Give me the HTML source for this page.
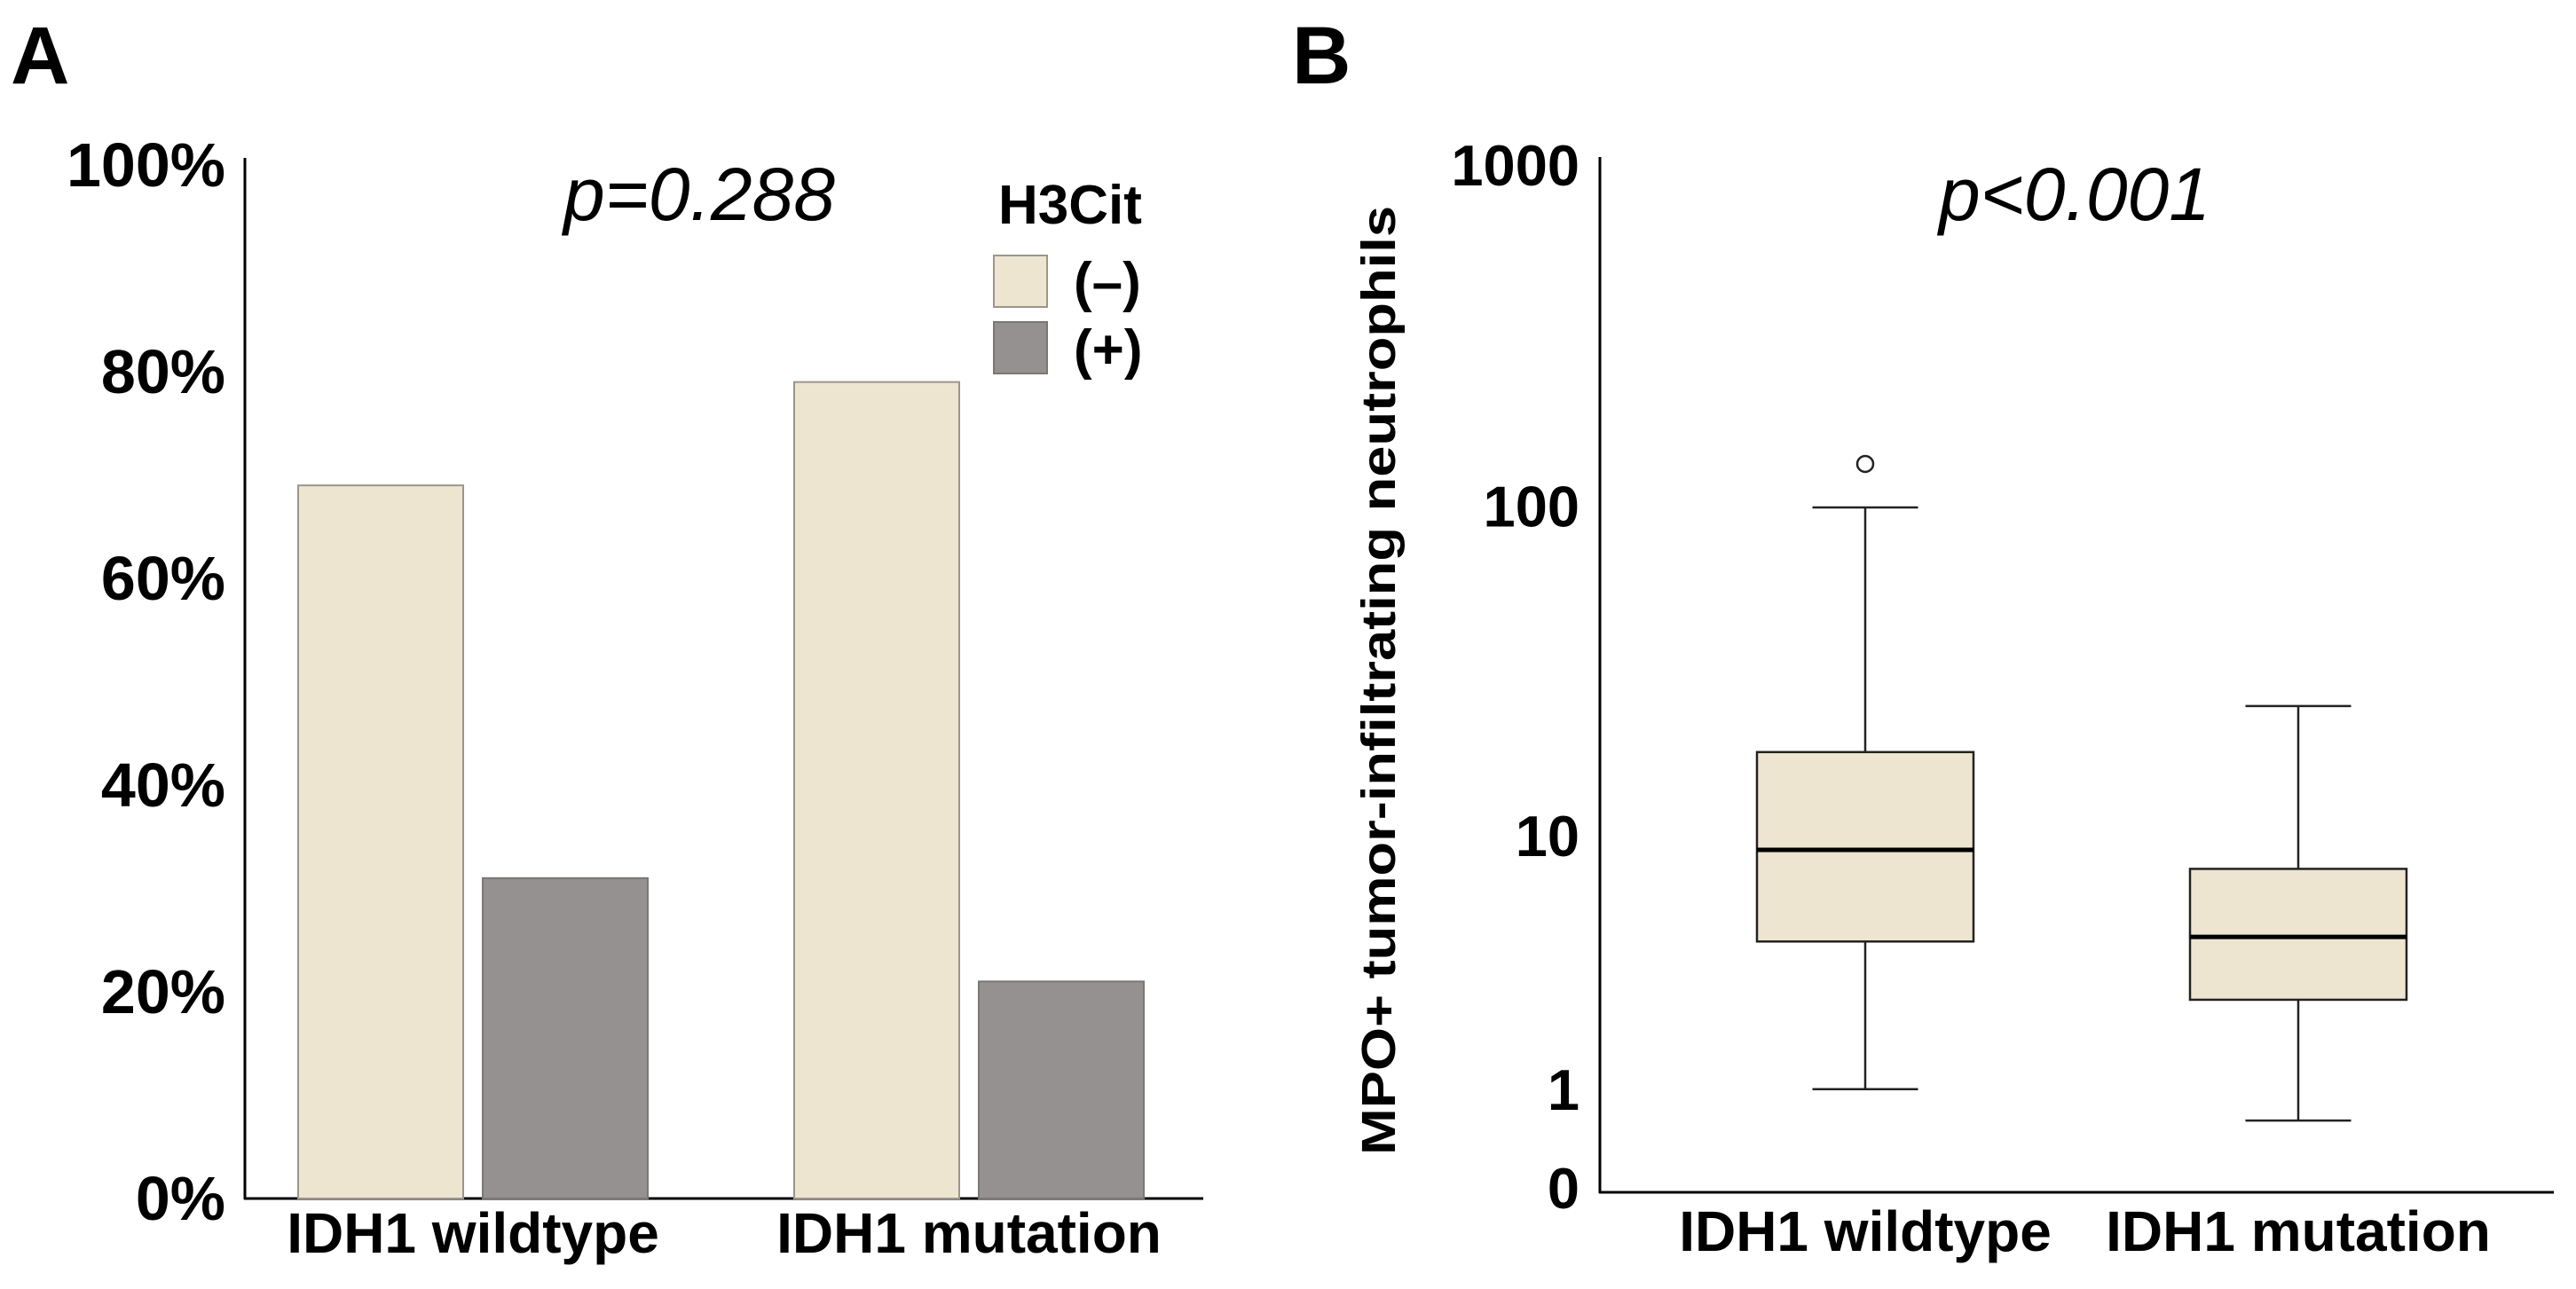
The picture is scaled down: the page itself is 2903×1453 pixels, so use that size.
<!DOCTYPE html>
<html><head><meta charset="utf-8"><style>
html,body{margin:0;padding:0;background:#fff;}
svg{display:block;font-family:"Liberation Sans",sans-serif;}
</style></head><body>
<svg id="fig" width="2903" height="1453" viewBox="0 0 2903 1453" xmlns="http://www.w3.org/2000/svg">
<text x="12" y="94" font-size="92" font-weight="bold">A</text>
<text x="1456" y="94" font-size="92" font-weight="bold">B</text>
<g id="pa"></g>
<g id="pb"></g>
</svg>
<script>
// Panel A data
const aCategories = ["IDH1 wildtype", "IDH1 mutation"];
const aNeg = [69, 79];
const aPos = [31, 21];
const aTicks = [0, 20, 40, 60, 80, 100];
// Panel B data
const bCategories = ["IDH1 wildtype", "IDH1 mutation"];
const bWhiskerLow = [1.0, 0.62];
const bQ1 = [4.4, 2.65];
const bMedian = [9, 4.57];
const bQ3 = [18.3, 7.8];
const bWhiskerHigh = [99, 25.3];
const bOutliers = [[133], []];
const bTicks = [0, 1, 10, 100, 1000];

const NS = "http://www.w3.org/2000/svg";
function mk(parent, tag, attrs, text) {
  const e = document.createElementNS(NS, tag);
  for (const k in attrs) e.setAttribute(k, attrs[k]);
  if (text !== undefined) e.textContent = text;
  parent.appendChild(e);
  return e;
}
// ---------- Panel A ----------
const pa = document.getElementById('pa');
const aY = v => 1351 - v * 11.65;
const aGroupX = [336, 895];
const aBarW = 186, aGap = 22;
let e;
e = mk(pa, 'line', {x1: 276, y1: 178, x2: 276, y2: 1352, stroke: '#000', 'stroke-width': 3});
 
e = mk(pa, 'line', {x1: 275, y1: 1351, x2: 1356, y2: 1351, stroke: '#000', 'stroke-width': 3});
 
aTicks.forEach(t => {
  const el = mk(pa, 'text', {x: 254, y: aY(t) + 24, 'text-anchor': 'end', 'font-size': 70, 'font-weight': 'bold'}, t + '%');
  
  
});
aCategories.forEach((c, i) => {
  const x0 = aGroupX[i];
  const b1 = mk(pa, 'rect', {x: x0, y: aY(aNeg[i]), width: aBarW, height: aY(0) - aY(aNeg[i]), fill: '#ede5cf', stroke: '#9a968c', 'stroke-width': 2});
  
  
  const b2 = mk(pa, 'rect', {x: x0 + aBarW + aGap, y: aY(aPos[i]), width: aBarW, height: aY(0) - aY(aPos[i]), fill: '#959190', stroke: '#7a7776', 'stroke-width': 2});
  
  
  const l = mk(pa, 'text', {x: x0 + aBarW + aGap / 2, y: 1412, 'text-anchor': 'middle', 'font-size': 64, 'font-weight': 'bold'}, c);
  
  
});
e = mk(pa, 'text', {x: 788, y: 248, 'text-anchor': 'middle', 'font-size': 84, 'font-style': 'italic'}, 'p=0.288');
 
e = mk(pa, 'text', {x: 1125, y: 252, 'font-size': 62, 'font-weight': 'bold'}, 'H3Cit');
 
e = mk(pa, 'rect', {x: 1120, y: 288, width: 60, height: 58, fill: '#ede5cf', stroke: '#9a968c', 'stroke-width': 2});
 
e = mk(pa, 'text', {x: 1210, y: 339, 'font-size': 62, 'font-weight': 'bold'}, '(\u2013)');
 
e = mk(pa, 'rect', {x: 1120, y: 363, width: 60, height: 58, fill: '#959190', stroke: '#7a7776', 'stroke-width': 2});
 
e = mk(pa, 'text', {x: 1210, y: 415, 'font-size': 62, 'font-weight': 'bold'}, '(+)');
 

// ---------- Panel B ----------
const pb = document.getElementById('pb');
const bY = v => 1344 - 386 * Math.log10(v + 1);
const bCX = [2102, 2590];
const boxW = 244, capW = 119;
e = mk(pb, 'line', {x1: 1803, y1: 177, x2: 1803, y2: 1345, stroke: '#000', 'stroke-width': 3});
 
e = mk(pb, 'line', {x1: 1802, y1: 1344, x2: 2878, y2: 1344, stroke: '#000', 'stroke-width': 3});
 
bTicks.forEach(t => {
  const el = mk(pb, 'text', {x: 1780, y: bY(t) + 23 - (t === 0 ? 5 : 0), 'text-anchor': 'end', 'font-size': 65, 'font-weight': 'bold'}, String(t));
  
  
});
bCategories.forEach((c, i) => {
  const cx = bCX[i];
  const w1 = mk(pb, 'line', {x1: cx, y1: bY(bWhiskerHigh[i]), x2: cx, y2: bY(bQ3[i]), stroke: '#222', 'stroke-width': 2.5});
   
  const w2 = mk(pb, 'line', {x1: cx, y1: bY(bQ1[i]), x2: cx, y2: bY(bWhiskerLow[i]), stroke: '#222', 'stroke-width': 2.5});
   
  const c1 = mk(pb, 'line', {x1: cx - capW / 2, y1: bY(bWhiskerHigh[i]), x2: cx + capW / 2, y2: bY(bWhiskerHigh[i]), stroke: '#222', 'stroke-width': 2.5});
   
  const c2 = mk(pb, 'line', {x1: cx - capW / 2, y1: bY(bWhiskerLow[i]), x2: cx + capW / 2, y2: bY(bWhiskerLow[i]), stroke: '#222', 'stroke-width': 2.5});
   
  const bx = mk(pb, 'rect', {x: cx - boxW / 2, y: bY(bQ3[i]), width: boxW, height: bY(bQ1[i]) - bY(bQ3[i]), fill: '#ede5cf', stroke: '#222', 'stroke-width': 2.5});
   
  const md = mk(pb, 'line', {x1: cx - boxW / 2, y1: bY(bMedian[i]), x2: cx + boxW / 2, y2: bY(bMedian[i]), stroke: '#000', 'stroke-width': 5});
   
  bOutliers[i].forEach(o => {
    const ol = mk(pb, 'circle', {cx: cx, cy: bY(o), r: 9, fill: '#fff', stroke: '#222', 'stroke-width': 2.5});
     
  });
  const l = mk(pb, 'text', {x: cx, y: 1410, 'text-anchor': 'middle', 'font-size': 64, 'font-weight': 'bold'}, c);
  
  
});
e = mk(pb, 'text', {x: 2338, y: 248, 'text-anchor': 'middle', 'font-size': 84, 'font-style': 'italic'}, 'p<0.001');
 
e = mk(pb, 'text', {x: 0, y: 0, 'text-anchor': 'middle', 'font-size': 54, 'font-weight': 'bold', transform: 'translate(1572,767) rotate(-90)', textLength: 1070, lengthAdjust: 'spacingAndGlyphs'}, 'MPO+ tumor-infiltrating neutrophils');
 
</script>
</body></html>
